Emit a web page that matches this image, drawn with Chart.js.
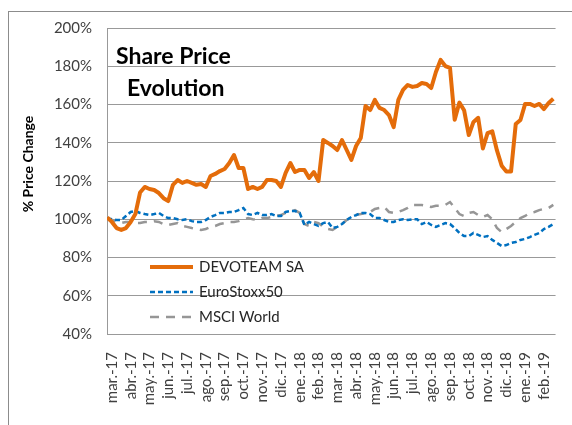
<!DOCTYPE html>
<html>
<head>
<meta charset="utf-8">
<script src="https://cdn.jsdelivr.net/npm/chart.js@4.4.1/dist/chart.umd.min.js"></script>
<style>
  body { margin: 0; background: #fff; }
  #wrap { position: relative; width: 572px; height: 425px; overflow: hidden; }
  #frame { position: absolute; left: 8px; top: 11px; width: 700px; height: 500px;
           border-left: 1px solid #8c8c8c; border-top: 1px solid #8c8c8c; }
  #chart { position: absolute; left: 0; top: 0; }
</style>
</head>
<body>
<div id="wrap">
  <div id="frame"></div>
  <canvas id="chart" width="572" height="425"></canvas>
</div>
<script>
// Month tick labels (one per month start)
const months = ["mar.-17", "abr.-17", "may.-17", "jun.-17", "jul.-17", "ago.-17", "sep.-17", "oct.-17",
  "nov.-17", "dic.-17", "ene.-18", "feb.-18", "mar.-18", "abr.-18", "may.-18", "jun.-18", "jul.-18",
  "ago.-18", "sep.-18", "oct.-18", "nov.-18", "dic.-18", "ene.-19", "feb.-19"];

// Weekly samples, first one a week before mar-17 (x in month units)
const startMonth = -0.25;
const weekStep = 0.25;

const devoteam = [
  101, 98.6, 95.4, 94.4, 95.4, 98.6, 102.7, 114, 116.9, 115.8,
  115.3, 113.7, 111, 109.5, 118, 120.5, 119, 120, 119, 118,
  118.4, 116.9, 122.6, 123.7, 125.2, 126.3, 129.4, 133.6, 126.8, 126.8,
  115.8, 116.9, 115.8, 116.9, 120.5, 120.5, 120, 116.9, 124.2, 129.4,
  124.7, 125.8, 125.8, 121.6, 124.7, 120, 141.4, 139.9, 138.3, 136.2,
  141.4, 136.2, 131, 138.3, 142.5, 159.2, 157.1, 162.4, 158.2, 157.1,
  154.5, 148.2, 162.4, 167.6, 170.2, 169.2, 169.7, 171.2, 170.7, 168.6,
  177, 183.3, 180.1, 179.1, 152, 161, 157, 144, 150.9, 153,
  137, 145, 146, 136, 128, 125, 125, 149.8, 151.9, 160.3,
  160.3, 159.2, 160.3, 157.6, 160.8, 163
];

const euroStoxx = [
  100.6, 100, 99.6, 99.6, 101.7, 103.8, 104.3, 103.3, 102.7, 102.2,
  102.7, 103.3, 101.7, 100.6, 100.6, 100, 99.6, 100, 99, 98.6,
  98.6, 99.6, 101.2, 102.2, 103.3, 103.3, 103.8, 103.8, 104.8, 105.9,
  102.7, 102.2, 103.3, 102.2, 102.2, 102.7, 101.7, 101.7, 103.8, 104.3,
  104.3, 103.3, 97, 98.6, 97.5, 96.5, 98, 98.6, 95.4, 96,
  97.5, 99.6, 101.2, 102.2, 103.3, 103.3, 102.7, 100.6, 100.6, 99.6,
  98.6, 98.6, 99.6, 100, 99.6, 100, 100, 97.5, 98.6, 97,
  96, 97, 98, 97.5, 95.4, 92.8, 91.2, 91.2, 92.8, 91.8,
  90.7, 91.2, 89.2, 87.6, 86, 86.5, 87.6, 88.1, 89.2, 89.7,
  90.7, 91.8, 92.8, 94.9, 96, 97.5
];

const msciWorld = [
  100.6, 99.6, 98.6, 98, 98.6, 98.6, 98, 98, 98.6, 98.6,
  99, 98.6, 97.5, 97, 97.5, 98, 96.5, 96, 95.4, 94.9,
  94.4, 94.9, 96, 96.5, 97.5, 98, 98.6, 98.6, 99, 100,
  100.6, 100, 99.6, 100.6, 100.6, 101.2, 101.7, 102.2, 103.3, 103.8,
  104.8, 103.3, 97.5, 96.5, 98.6, 98, 96, 94.9, 94.4, 96,
  97.5, 99.6, 101.2, 102.2, 102.7, 103.3, 103.8, 105.4, 105.9, 106.4,
  103.8, 103.3, 103.8, 104.8, 105.9, 107.5, 107.5, 107.5, 107, 106.4,
  107, 107, 107.5, 109, 105.9, 102.7, 101.7, 103.3, 103.8, 102.2,
  101.2, 102.2, 100, 95.4, 93.3, 94.9, 96.5, 98.6, 100.6, 101.7,
  103.3, 103.8, 104.8, 105.4, 105.9, 107.5
];

const chartTitle = ["Share Price", "Evolution"];
const yTitle = "% Price Change";

function toPoints(values) {
  return values.map((v, i) => ({ x: startMonth + i * weekStep, y: v }));
}

// Title, y axis title and legend are drawn inside / beside the plot area
const overlayText = {
  id: 'overlayText',
  afterDatasetsDraw(chart) {
    const { ctx, chartArea } = chart;
    ctx.save();
    ctx.fillStyle = '#000';
    ctx.font = 'bold 23px Lato';
    ctx.textBaseline = 'alphabetic';
    ctx.fillText(chartTitle[0], chartArea.left + 9, chartArea.top + 36);
    ctx.fillText(chartTitle[1], chartArea.left + 20, chartArea.top + 68);
    ctx.restore();

    ctx.save();
    ctx.translate(chartArea.left - 79, chartArea.top + 136);
    ctx.rotate(-Math.PI / 2);
    ctx.textAlign = 'center';
    ctx.textBaseline = 'middle';
    ctx.font = 'bold 14px Lato';
    ctx.fillStyle = '#000';
    ctx.fillText(yTitle, 0, 0);
    ctx.restore();

    chart.data.datasets.forEach((ds, i) => {
      const y = chartArea.bottom - 67 + i * 25;
      const x0 = chartArea.left + 43;
      ctx.save();
      ctx.strokeStyle = ds.borderColor;
      ctx.lineWidth = ds.borderWidth;
      ctx.setLineDash(ds.borderDash || []);
      ctx.beginPath();
      ctx.moveTo(x0, y);
      ctx.lineTo(x0 + 43, y);
      ctx.stroke();
      ctx.fillStyle = '#262626';
      ctx.font = '15px Lato';
      ctx.textBaseline = 'middle';
      ctx.fillText(ds.label, x0 + 49, y);
      ctx.restore();
    });
  }
};

new Chart(document.getElementById('chart'), {
  type: 'line',
  data: {
    datasets: [{
      label: 'DEVOTEAM SA',
      data: toPoints(devoteam),
      borderColor: '#E46C0A',
      borderWidth: 4,
      borderJoinStyle: 'round',
      pointRadius: 0,
      tension: 0
    }, {
      label: 'EuroStoxx50',
      data: toPoints(euroStoxx),
      borderColor: '#0070C0',
      borderWidth: 2.5,
      borderDash: [5, 3],
      pointRadius: 0,
      tension: 0
    }, {
      label: 'MSCI World',
      data: toPoints(msciWorld),
      borderColor: '#969696',
      borderWidth: 2.5,
      borderDash: [9, 7],
      pointRadius: 0,
      tension: 0
    }]
  },
  options: {
    responsive: false,
    animation: false,
    layout: { padding: { left: 47, top: 28, right: 3, bottom: 0 } },
    plugins: {
      legend: { display: false },
      tooltip: { enabled: false }
    },
    scales: {
      x: {
        type: 'linear',
        min: -0.26,
        max: 23.62,
        grid: { display: false },
        border: { display: false },
        afterBuildTicks: (scale) => { scale.ticks = months.map((m, i) => ({ value: i })); },
        afterFit: (scale) => { scale.height = 91; },
        ticks: {
          autoSkip: false,
          maxRotation: 90,
          minRotation: 90,
          padding: 10,
          color: '#404040',
          font: { family: 'Lato', size: 15 },
          callback: (v) => months[v]
        }
      },
      y: {
        min: 40,
        max: 200,
        afterFit: (scale) => { scale.width = 60; },
        grid: { color: '#999', drawTicks: false },
        border: { display: true, color: '#999' },
        ticks: {
          stepSize: 20,
          padding: 15,
          color: '#404040',
          font: { family: 'Lato', size: 15 },
          callback: (v) => v + '%'
        }
      }
    }
  },
  plugins: [overlayText]
});
</script>
</body>
</html>
